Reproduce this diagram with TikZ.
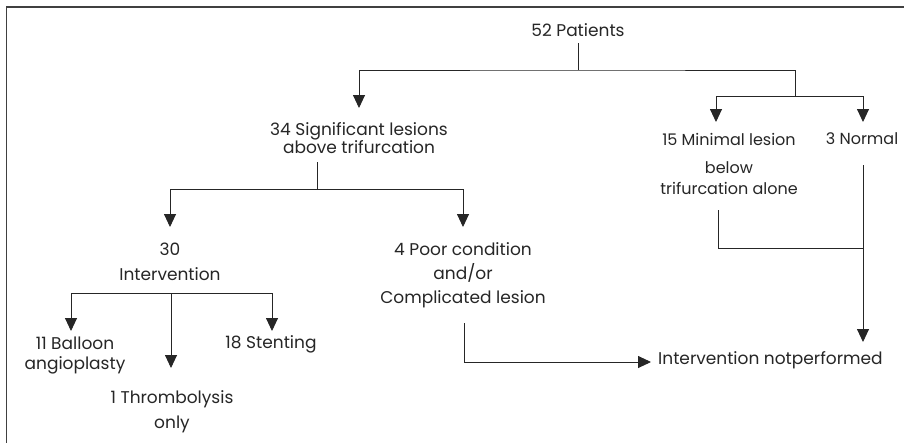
\documentclass[tikz,border=0pt]{standalone}
\usepackage{fontspec}
\setmainfont{Poppins}
\usetikzlibrary{arrows.meta}
\begin{document}
\begin{tikzpicture}[x=1pt,y=-1pt,
  lbl/.style={inner sep=0pt,align=center,font=\fontsize{17}{18}\selectfont,text=black!85},
  conn/.style={line width=0.9pt,draw=black!85},
  arr/.style={conn,-{Triangle[length=13pt,width=12pt]}},
  frame/.style={line width=1.8pt,draw=black!75}]
\useasboundingbox (0,0) rectangle (904,442);
\fill[white] (0,0) rectangle (904,442);
\draw[frame] (6.5,450) -- (6.5,7) -- (910,7);

% text nodes
\node[lbl] (P) at (578,30) {52 Patients};
\node[lbl] (S) at (359,138) {34 Significant lesions\\above trifurcation};
\node[lbl,font=\fontsize{16}{21}\selectfont] (M) at (729,164) {15 Minimal lesion\\[7pt]below\\trifurcation alone};
\node[lbl,font=\fontsize{16}{18}\selectfont] (Nm) at (862,139) {3 Normal};
\node[lbl,font=\fontsize{17}{25}\selectfont] (I) at (170,262) {30\\Intervention};
\node[lbl,font=\fontsize{17}{24}\selectfont] (C) at (463,275) {4 Poor condition\\and/or\\Complicated lesion};
\node[lbl,font=\fontsize{17}{20}\selectfont] (B) at (75,355) {11 Balloon\\angioplasty};
\node[lbl] (St) at (271,344) {18 Stenting};
\node[lbl,font=\fontsize{17}{25}\selectfont] (T) at (172,412) {1 Thrombolysis\\only};
\node[lbl,anchor=west] (N) at (658,360) {Intervention notperformed};

% junction / end coordinates
\coordinate (p0) at (578,43);
\coordinate (p1) at (578,70);
\coordinate (sT) at (359,108);
\coordinate (r0) at (795,70);
\coordinate (r1) at (795,96);
\coordinate (mT) at (716,122);
\coordinate (nT) at (863,122);
\coordinate (s0) at (317,162);
\coordinate (s1) at (317,189);
\coordinate (iT) at (170,227);
\coordinate (cT) at (463,227);
\coordinate (i0) at (171,293);
\coordinate (bT) at (71,331);
\coordinate (stT) at (272,331);
\coordinate (tT) at (171,368);
\coordinate (c0) at (464,323);
\coordinate (c1) at (464,362);
\coordinate (nA) at (651,362);
\coordinate (m0) at (718,210);
\coordinate (m1) at (718,248);
\coordinate (n0) at (863,165);
\coordinate (n1) at (863,248);
\coordinate (nB) at (863,342);

% connectors
\draw[conn] (p0) -- (p1);
\draw[arr] (r0) -- (p1) -| (sT);
\draw[conn] (r0) -- (r1);
\draw[arr] (r1) -| (mT);
\draw[arr] (r1) -| (nT);
\draw[conn] (s0) -- (s1);
\draw[arr] (s1) -| (iT);
\draw[arr] (s1) -| (cT);
\draw[arr] (i0) -| (bT);
\draw[arr] (i0) -| (stT);
\draw[arr] (i0) -- (tT);
\draw[arr] (c0) |- (nA);
\draw[conn] (m0) |- (n1);
\draw[arr] (n0) -- (nB);
\end{tikzpicture}
\end{document}
